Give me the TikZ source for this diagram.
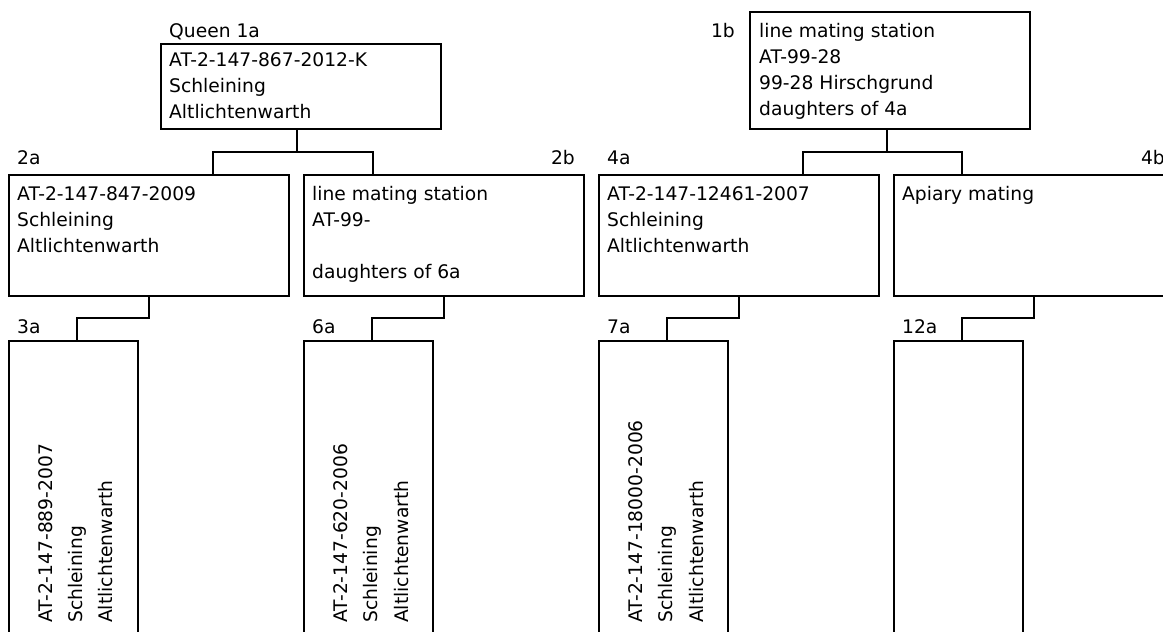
\documentclass[tikz,border=0pt]{standalone}
\usepackage{fontspec}
\setmainfont{DejaVu Sans}
\usetikzlibrary{calc}
\newcommand{\mylines}[1]{\begin{tabular}[t]{@{}l@{}}#1\end{tabular}}
\begin{document}
\begin{tikzpicture}[x=1pt,y=-1pt,
  box/.style={draw, line width=1.2pt, inner sep=0pt, outer sep=0pt, anchor=north west, rectangle},
  wide/.style={box, minimum width=280pt, minimum height=121pt},
  narrow/.style={box, minimum width=129pt, minimum height=340pt},
  txt/.style={inner sep=0pt, anchor=base west, font=\fontsize{18.7}{26.3}\selectfont},
  lbl/.style={inner sep=0pt, font=\fontsize{18.7}{26.3}\selectfont},
  vtxt/.style={inner sep=0pt, anchor=base west, rotate=90, font=\fontsize{18.7}{30.5}\selectfont},
  conn/.style={line width=1.2pt}]
\useasboundingbox (0,0) rectangle (1163,632);
\clip (0,0) rectangle (1163,632);
% boxes
\node[box, minimum width=280pt, minimum height=85pt] (b1a) at (161,44) {};
\node[box, minimum width=280pt, minimum height=117pt] (b1b) at (750,12) {};
\node[wide] (b2a) at (9,175) {};
\node[wide] (b2b) at (304,175) {};
\node[wide] (b4a) at (599,175) {};
\node[wide] (b4b) at (894,175) {};
\node[narrow] (b3a) at (9,341) {};
\node[narrow] (b6a) at (304,341) {};
\node[narrow] (b7a) at (599,341) {};
\node[narrow] (b12a) at (894,341) {};
% texts in boxes
\node[txt] (t1a) at (169,66) {\mylines{AT-2-147-867-2012-K\\Schleining\\Altlichtenwarth}};
\node[txt] (t1b) at (759,37) {\mylines{line mating station\\AT-99-28\\99-28 Hirschgrund\\daughters of 4a}};
\node[txt] (t2a) at (17,200) {\mylines{AT-2-147-847-2009\\Schleining\\Altlichtenwarth}};
\node[txt] (t2b) at (312,200) {\mylines{line mating station\\AT-99-\\\\daughters of 6a}};
\node[txt] (t4a) at (607,200) {\mylines{AT-2-147-12461-2007\\Schleining\\Altlichtenwarth}};
\node[txt] (t4b) at (902,200) {Apiary mating};
\node[vtxt] (v3a) at (52,623) {\mylines{AT-2-147-889-2007\\Schleining\\Altlichtenwarth}};
\node[vtxt] (v6a) at (347,623) {\mylines{AT-2-147-620-2006\\Schleining\\Altlichtenwarth}};
\node[vtxt] (v7a) at (642,623) {\mylines{AT-2-147-18000-2006\\Schleining\\Altlichtenwarth}};
% labels
\node[lbl, anchor=base west] (l1a) at (169,37) {Queen 1a};
\node[lbl, anchor=base east] (l1b) at (735,37) {1b};
\node[lbl, anchor=base west] (l2a) at (17,164) {2a};
\node[lbl, anchor=base east] (l2b) at (575,164) {2b};
\node[lbl, anchor=base west] (l4a) at (607,164) {4a};
\node[lbl, anchor=base east] (l4b) at (1165,164) {4b};
\node[lbl, anchor=base west] (l3a) at (17,333) {3a};
\node[lbl, anchor=base west] (l6a) at (312,333) {6a};
\node[lbl, anchor=base west] (l7a) at (607,333) {7a};
\node[lbl, anchor=base west] (l12a) at (902,333) {12a};
% attachment x positions
\coordinate (p1a) at (297,0);
\coordinate (p1b) at (887,0);
\coordinate (p2a) at (149,0);
\coordinate (p2b) at (444,0);
\coordinate (p4a) at (739,0);
\coordinate (p4b) at (1034,0);
\coordinate (c2a) at (213,0);
\coordinate (c2b) at (373,0);
\coordinate (c4a) at (803,0);
\coordinate (c4b) at (962,0);
\coordinate (c3a) at (77,0);
\coordinate (c6a) at (372,0);
\coordinate (c7a) at (667,0);
\coordinate (c12a) at (962,0);
% connectors
\draw[conn] (b1a.south -| p1a) -- ++(0,23) -| (b2a.north -| c2a);
\draw[conn] (b1a.south -| p1a) -- ++(0,23) -| (b2b.north -| c2b);
\draw[conn] (b1b.south -| p1b) -- ++(0,23) -| (b4a.north -| c4a);
\draw[conn] (b1b.south -| p1b) -- ++(0,23) -| (b4b.north -| c4b);
\draw[conn] (b2a.south -| p2a) -- ++(0,22) -| (b3a.north -| c3a);
\draw[conn] (b2b.south -| p2b) -- ++(0,22) -| (b6a.north -| c6a);
\draw[conn] (b4a.south -| p4a) -- ++(0,22) -| (b7a.north -| c7a);
\draw[conn] (b4b.south -| p4b) -- ++(0,22) -| (b12a.north -| c12a);
\end{tikzpicture}
\end{document}
